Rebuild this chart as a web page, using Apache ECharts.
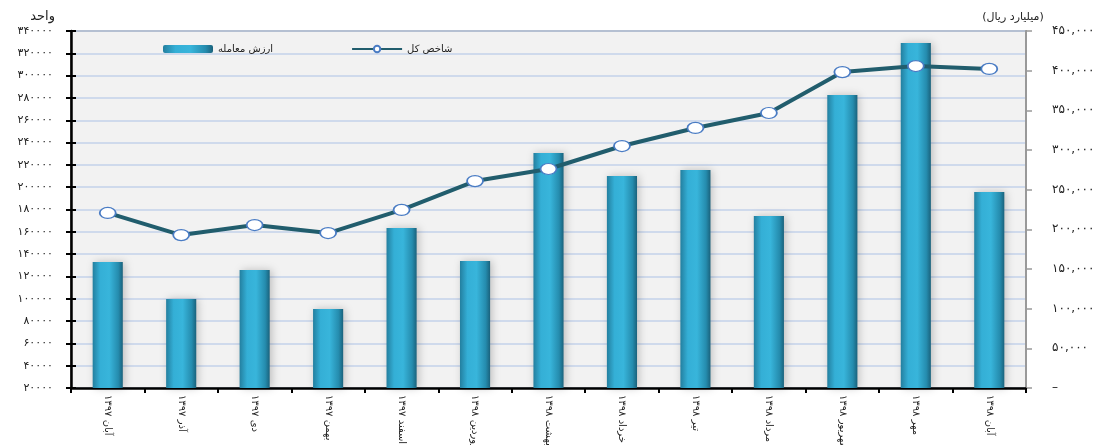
<!DOCTYPE html>
<html>
<head>
<meta charset="utf-8">
<script src="https://cdn.jsdelivr.net/npm/echarts@6/dist/echarts.min.js"></script>
<style>
html,body{margin:0;padding:0;background:#fff;}
#chart{width:1107px;height:445px;}
</style>
</head>
<body>
<div id="chart"></div>
<script>
var categories = ['آبان ۱۳۹۷','آذر ۱۳۹۷','دی ۱۳۹۷','بهمن ۱۳۹۷','اسفند ۱۳۹۷','فروردین ۱۳۹۸','اردیبهشت ۱۳۹۸','خرداد ۱۳۹۸','تیر ۱۳۹۸','مرداد ۱۳۹۸','شهریور ۱۳۹۸','مهر ۱۳۹۸','آبان ۱۳۹۸'];
var tradeValues = [158800, 112200, 148700, 99600, 201700, 160100, 296200, 267200, 274800, 216800, 369300, 434900, 247100];
var indexValues = [176900, 157100, 166100, 158900, 179600, 205500, 216300, 236900, 253100, 266500, 303200, 308600, 306000];
var barName = 'ارزش معامله';
var lineName = 'شاخص کل';
var leftAxisName = 'واحد';
var rightAxisName = '(میلیارد ریال)';

function toFa(s){ return String(s).replace(/[0-9]/g, function(d){ return '۰۱۲۳۴۵۶۷۸۹'[+d]; }); }

var FONT = 'DejaVu Sans';
var chart = echarts.init(document.getElementById('chart'));
chart.setOption({
  animation: false,
  textStyle: { fontFamily: FONT },
  legend: {
    left: 158, top: 39,
    itemWidth: 50, itemHeight: 8, itemGap: 78,
    textStyle: { fontSize: 10, color: '#222', fontFamily: FONT },
    data: [barName, lineName]
  },
  grid: {
    left: 71, right: 81, top: 31, bottom: 57,
    outerBoundsMode: 'none', containLabel: false,
    show: true, backgroundColor: '#f2f2f2', borderColor: '#8a8a8a', borderWidth: 2
  },
  xAxis: {
    type: 'category', data: categories,
    axisLine: { lineStyle: { color: '#000', width: 2.5 } },
    axisTick: { show: true, length: 5, lineStyle: { color: '#000', width: 2 } },
    axisLabel: { rotate: -90, fontSize: 10, color: '#222', margin: 7, interval: 0, fontFamily: FONT }
  },
  yAxis: [
    {
      type: 'value', position: 'left', min: 20000, max: 340000, interval: 20000,
      name: leftAxisName, nameLocation: 'end', nameGap: 8,
      nameTextStyle: { fontSize: 13, color: '#222', align: 'right', padding: [0, 16, 0, 0], fontFamily: FONT },
      axisLine: { show: true, lineStyle: { color: '#000', width: 2.5 } },
      axisTick: { show: true, length: 5, lineStyle: { color: '#000', width: 2 } },
      axisLabel: { fontSize: 11, color: '#222', margin: 18, formatter: function(v){ return toFa(v); }, fontFamily: FONT },
      splitLine: { show: true, lineStyle: { color: '#c3d2ea', width: 1.5 } }
    },
    {
      type: 'value', position: 'right', min: 0, max: 450000, interval: 50000,
      name: rightAxisName, nameLocation: 'end', nameGap: 8,
      nameTextStyle: { fontSize: 11, color: '#222', align: 'center', padding: [0, 26, 0, 0], fontFamily: FONT },
      axisLine: { show: true, lineStyle: { color: '#999', width: 2 } },
      axisTick: { show: true, length: 6, lineStyle: { color: '#999', width: 1.5 } },
      axisLabel: { fontSize: 12, color: '#222', margin: 26,
        formatter: function(v){ return v === 0 ? '–' : toFa(v.toLocaleString('en-US')); }, fontFamily: FONT },
      splitLine: { show: false }
    },
    {
      type: 'value', position: 'left', min: 20000, max: 340000, interval: 20000,
      axisLine: { show: false },
      axisTick: { show: true, inside: true, length: 5, lineStyle: { color: '#000', width: 2 } },
      axisLabel: { show: false },
      splitLine: { show: false }
    }
  ],
  series: [
    {
      name: barName, type: 'bar', yAxisIndex: 1, data: tradeValues, barWidth: '41%',
      itemStyle: {
        color: new echarts.graphic.LinearGradient(0, 0, 1, 0, [
          { offset: 0, color: '#237f9f' },
          { offset: 0.25, color: '#34afd6' },
          { offset: 0.55, color: '#38b5db' },
          { offset: 0.85, color: '#258cae' },
          { offset: 1, color: '#1a627c' }
        ]),
        shadowColor: 'rgba(0,0,0,0.22)', shadowBlur: 8, shadowOffsetX: 2
      }
    },
    {
      name: lineName, type: 'line', yAxisIndex: 0, data: indexValues,
      lineStyle: { color: '#215d6d', width: 4 },
      symbol: 'circle', symbolSize: [16, 11], showAllSymbol: true,
      itemStyle: { color: '#ffffff', borderColor: '#4a7cc4', borderWidth: 1.5 },
      z: 5
    }
  ]
});
</script>
</body>
</html>
